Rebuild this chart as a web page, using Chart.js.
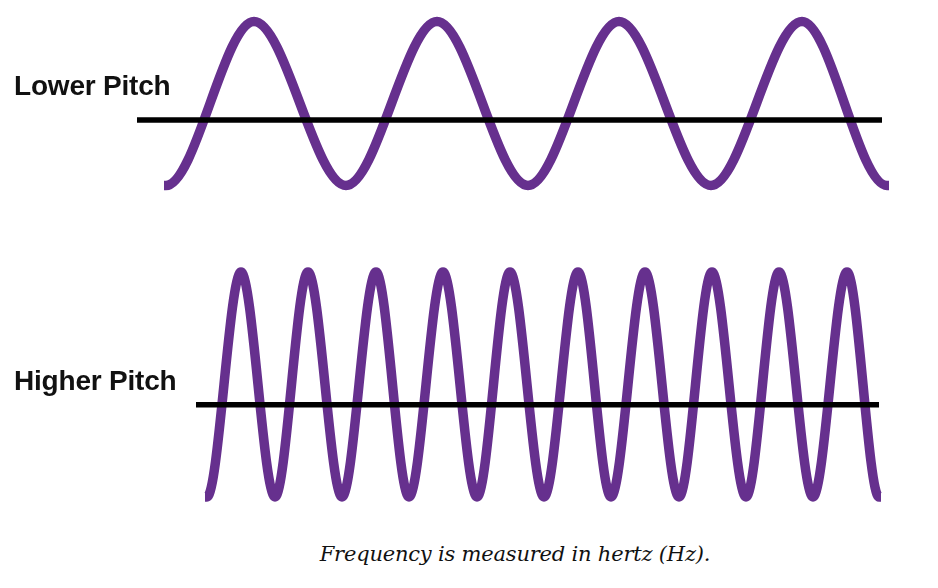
<!DOCTYPE html>
<html>
<head>
<meta charset="utf-8">
<script src="https://cdn.jsdelivr.net/npm/chart.js@4"></script>
<style>
  html, body { margin:0; padding:0; background:#fff; width:938px; height:588px; overflow:hidden; }
  .box { position:absolute; left:0; width:938px; }
  .lbl { position:absolute; left:14px; font-family:"Liberation Sans", Arial, sans-serif; font-weight:bold; font-size:28px; line-height:28px; color:#111; white-space:nowrap; letter-spacing:-0.2px; }
  .cap { position:absolute; left:515px; top:544px; transform:translateX(-50%); font-family:"DejaVu Serif", serif; font-style:italic; font-size:21px; line-height:21px; color:#111; white-space:nowrap; letter-spacing:-0.2px; }
</style>
</head>
<body>
<div class="box" style="top:1px;height:205px;"><canvas id="top"></canvas></div>
<div class="box" style="top:244px;height:281px;"><canvas id="bot"></canvas></div>
<div class="lbl" style="top:72px;">Lower Pitch</div>
<div class="lbl" style="top:367px;">Higher Pitch</div>
<div class="cap">Frequency is measured in hertz (Hz).</div>
<script>
// Lower pitch wave: horizontal positions of troughs/peaks and their amplitude
const lowX = [164, 166, 254, 346, 437, 528, 619, 711, 802, 887, 889];
const lowY = [-1, -1, 1, -1, 1, -1, 1, -1, 1, -1, -1];
const lowAxisX = [137, 882];
const lowAxisY = [-0.2, -0.2];

// Higher pitch wave
const highX = [205, 207, 241, 275, 308, 342, 376, 409, 443, 477, 510, 544, 578, 611, 645, 679, 712, 746, 779, 813, 847, 879, 881];
const highY = [-1, -1, 1, -1, 1, -1, 1, -1, 1, -1, 1, -1, 1, -1, 1, -1, 1, -1, 1, -1, 1, -1, -1];
const highAxisX = [196, 879];
const highAxisY = [-0.18, -0.18];

const PURPLE = '#66308e';

function pts(xs, ys) { return xs.map((x, i) => ({ x: x, y: ys[i] })); }

function makeChart(id, wx, wy, ax, ay) {
  new Chart(document.getElementById(id), {
    type: 'line',
    data: {
      datasets: [
        { data: pts(ax, ay), borderColor: '#000', borderWidth: 5.5, pointRadius: 0, tension: 0, clip: false, order: 0, borderCapStyle: 'butt' },
        { data: pts(wx, wy), borderColor: PURPLE, borderWidth: 9.5, pointRadius: 0, cubicInterpolationMode: 'monotone', clip: false, order: 1, borderCapStyle: 'butt' }
      ]
    },
    options: {
      responsive: true,
      maintainAspectRatio: false,
      animation: false,
      events: [],
      layout: { padding: 0 },
      plugins: { legend: { display: false }, tooltip: { enabled: false } },
      scales: {
        x: { type: 'linear', min: 0, max: 938, display: false },
        y: { type: 'linear', min: -1.25, max: 1.25, display: false }
      }
    }
  });
}

makeChart('top', lowX, lowY, lowAxisX, lowAxisY);
makeChart('bot', highX, highY, highAxisX, highAxisY);
</script>
</body>
</html>
